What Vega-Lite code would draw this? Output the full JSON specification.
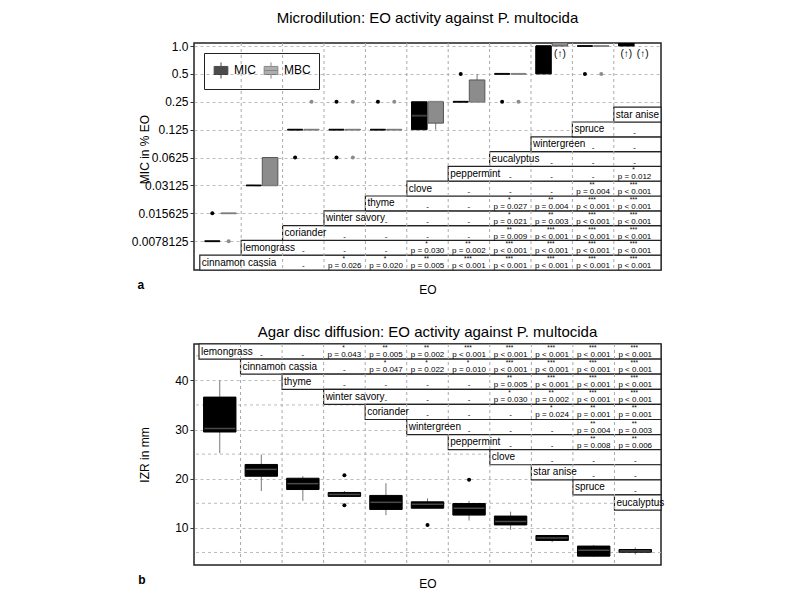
{
  "$schema": "https://vega.github.io/schema/vega-lite/v6.json",
  "padding": {"left": 130, "top": 10, "right": 5, "bottom": 5},
  "background": "white",
  "spacing": 28,
  "datasets": {
    "boxA": [
      {"EO": "cinnamon cassia", "type": "MIC", "lo": 0.0078125, "q1": 0.0078125, "med": 0.0078125, "q3": 0.0078125, "hi": 0.0078125},
      {"EO": "cinnamon cassia", "type": "MBC", "lo": 0.015625, "q1": 0.015625, "med": 0.015625, "q3": 0.015625, "hi": 0.015625},
      {"EO": "lemongrass", "type": "MIC", "lo": 0.03125, "q1": 0.03125, "med": 0.03125, "q3": 0.03125, "hi": 0.03125},
      {"EO": "lemongrass", "type": "MBC", "lo": 0.03125, "q1": 0.03125, "med": 0.03125, "q3": 0.0625, "hi": 0.0625},
      {"EO": "coriander", "type": "MIC", "lo": 0.125, "q1": 0.125, "med": 0.125, "q3": 0.125, "hi": 0.125},
      {"EO": "coriander", "type": "MBC", "lo": 0.125, "q1": 0.125, "med": 0.125, "q3": 0.125, "hi": 0.125},
      {"EO": "winter savory", "type": "MIC", "lo": 0.125, "q1": 0.125, "med": 0.125, "q3": 0.125, "hi": 0.125},
      {"EO": "winter savory", "type": "MBC", "lo": 0.125, "q1": 0.125, "med": 0.125, "q3": 0.125, "hi": 0.125},
      {"EO": "thyme", "type": "MIC", "lo": 0.125, "q1": 0.125, "med": 0.125, "q3": 0.125, "hi": 0.125},
      {"EO": "thyme", "type": "MBC", "lo": 0.125, "q1": 0.125, "med": 0.125, "q3": 0.125, "hi": 0.125},
      {"EO": "clove", "type": "MIC", "lo": 0.125, "q1": 0.125, "med": 0.177, "q3": 0.25, "hi": 0.25},
      {"EO": "clove", "type": "MBC", "lo": 0.125, "q1": 0.147, "med": 0.25, "q3": 0.25, "hi": 0.25},
      {"EO": "peppermint", "type": "MIC", "lo": 0.25, "q1": 0.25, "med": 0.25, "q3": 0.25, "hi": 0.25},
      {"EO": "peppermint", "type": "MBC", "lo": 0.25, "q1": 0.25, "med": 0.25, "q3": 0.43, "hi": 0.5},
      {"EO": "eucalyptus", "type": "MIC", "lo": 0.5, "q1": 0.5, "med": 0.5, "q3": 0.5, "hi": 0.5},
      {"EO": "eucalyptus", "type": "MBC", "lo": 0.5, "q1": 0.5, "med": 0.5, "q3": 0.5, "hi": 0.5},
      {"EO": "wintergreen", "type": "MIC", "lo": 0.5, "q1": 0.5, "med": 1, "q3": 1, "hi": 1},
      {"EO": "wintergreen", "type": "MBC", "lo": 1, "q1": 1, "med": 2, "q3": 2, "hi": 2},
      {"EO": "spruce", "type": "MIC", "lo": 1, "q1": 1, "med": 1, "q3": 1, "hi": 1},
      {"EO": "spruce", "type": "MBC", "lo": 1, "q1": 1, "med": 1, "q3": 1, "hi": 1},
      {"EO": "star anise", "type": "MIC", "lo": 1, "q1": 1, "med": 2, "q3": 2, "hi": 2},
      {"EO": "star anise", "type": "MBC", "lo": 2, "q1": 2, "med": 2, "q3": 2, "hi": 2}
    ],
    "outA": [
      {"EO": "cinnamon cassia", "type": "MIC", "v": 0.015625},
      {"EO": "cinnamon cassia", "type": "MBC", "v": 0.0078125},
      {"EO": "coriander", "type": "MIC", "v": 0.0625},
      {"EO": "coriander", "type": "MBC", "v": 0.25},
      {"EO": "winter savory", "type": "MIC", "v": 0.25},
      {"EO": "winter savory", "type": "MIC", "v": 0.0625},
      {"EO": "winter savory", "type": "MBC", "v": 0.25},
      {"EO": "winter savory", "type": "MBC", "v": 0.0625},
      {"EO": "thyme", "type": "MIC", "v": 0.25},
      {"EO": "thyme", "type": "MBC", "v": 0.25},
      {"EO": "peppermint", "type": "MIC", "v": 0.5},
      {"EO": "eucalyptus", "type": "MIC", "v": 0.25},
      {"EO": "eucalyptus", "type": "MBC", "v": 0.25},
      {"EO": "spruce", "type": "MIC", "v": 0.5},
      {"EO": "spruce", "type": "MBC", "v": 0.5}
    ],
    "arrA": [
      {"EO": "wintergreen", "type": "MBC", "v": 1, "t": "(↑)"},
      {"EO": "star anise", "type": "MIC", "v": 1, "t": "(↑)"},
      {"EO": "star anise", "type": "MBC", "v": 1, "t": "(↑)"}
    ],
    "rowsA": [
      {"r": 0, "EO": "cinnamon cassia"}, {"r": 1, "EO": "lemongrass"}, {"r": 2, "EO": "coriander"},
      {"r": 3, "EO": "winter savory"}, {"r": 4, "EO": "thyme"}, {"r": 5, "EO": "clove"},
      {"r": 6, "EO": "peppermint"}, {"r": 7, "EO": "eucalyptus"}, {"r": 8, "EO": "wintergreen"},
      {"r": 9, "EO": "spruce"}, {"r": 10, "EO": "star anise"}
    ],
    "gridA": [
      {"EO": "lemongrass"}, {"EO": "coriander"}, {"EO": "winter savory"}, {"EO": "thyme"}, {"EO": "clove"},
      {"EO": "peppermint"}, {"EO": "eucalyptus"}, {"EO": "wintergreen"}, {"EO": "spruce"}, {"EO": "star anise"}
    ],
    "cellsA": [
      {"r": 0, "EO": "lemongrass", "p": "-", "sig": ""},
      {"r": 0, "EO": "coriander", "p": "-", "sig": ""},
      {"r": 0, "EO": "winter savory", "p": "p = 0.026", "sig": "*"},
      {"r": 0, "EO": "thyme", "p": "p = 0.020", "sig": "*"},
      {"r": 0, "EO": "clove", "p": "p = 0.005", "sig": "**"},
      {"r": 0, "EO": "peppermint", "p": "p < 0.001", "sig": "***"},
      {"r": 0, "EO": "eucalyptus", "p": "p < 0.001", "sig": "***"},
      {"r": 0, "EO": "wintergreen", "p": "p < 0.001", "sig": "***"},
      {"r": 0, "EO": "spruce", "p": "p < 0.001", "sig": "***"},
      {"r": 0, "EO": "star anise", "p": "p < 0.001", "sig": "***"},
      {"r": 1, "EO": "coriander", "p": "-", "sig": ""},
      {"r": 1, "EO": "winter savory", "p": "-", "sig": ""},
      {"r": 1, "EO": "thyme", "p": "-", "sig": ""},
      {"r": 1, "EO": "clove", "p": "p = 0.030", "sig": "*"},
      {"r": 1, "EO": "peppermint", "p": "p = 0.002", "sig": "**"},
      {"r": 1, "EO": "eucalyptus", "p": "p < 0.001", "sig": "***"},
      {"r": 1, "EO": "wintergreen", "p": "p < 0.001", "sig": "***"},
      {"r": 1, "EO": "spruce", "p": "p < 0.001", "sig": "***"},
      {"r": 1, "EO": "star anise", "p": "p < 0.001", "sig": "***"},
      {"r": 2, "EO": "winter savory", "p": "-", "sig": ""},
      {"r": 2, "EO": "thyme", "p": "-", "sig": ""},
      {"r": 2, "EO": "clove", "p": "-", "sig": ""},
      {"r": 2, "EO": "peppermint", "p": "-", "sig": ""},
      {"r": 2, "EO": "eucalyptus", "p": "p = 0.009", "sig": "**"},
      {"r": 2, "EO": "wintergreen", "p": "p < 0.001", "sig": "***"},
      {"r": 2, "EO": "spruce", "p": "p < 0.001", "sig": "***"},
      {"r": 2, "EO": "star anise", "p": "p < 0.001", "sig": "***"},
      {"r": 3, "EO": "thyme", "p": "-", "sig": ""},
      {"r": 3, "EO": "clove", "p": "-", "sig": ""},
      {"r": 3, "EO": "peppermint", "p": "-", "sig": ""},
      {"r": 3, "EO": "eucalyptus", "p": "p = 0.021", "sig": "*"},
      {"r": 3, "EO": "wintergreen", "p": "p = 0.003", "sig": "**"},
      {"r": 3, "EO": "spruce", "p": "p < 0.001", "sig": "***"},
      {"r": 3, "EO": "star anise", "p": "p < 0.001", "sig": "***"},
      {"r": 4, "EO": "clove", "p": "-", "sig": ""},
      {"r": 4, "EO": "peppermint", "p": "-", "sig": ""},
      {"r": 4, "EO": "eucalyptus", "p": "p = 0.027", "sig": "*"},
      {"r": 4, "EO": "wintergreen", "p": "p = 0.004", "sig": "**"},
      {"r": 4, "EO": "spruce", "p": "p < 0.001", "sig": "***"},
      {"r": 4, "EO": "star anise", "p": "p < 0.001", "sig": "***"},
      {"r": 5, "EO": "peppermint", "p": "-", "sig": ""},
      {"r": 5, "EO": "eucalyptus", "p": "-", "sig": ""},
      {"r": 5, "EO": "wintergreen", "p": "-", "sig": ""},
      {"r": 5, "EO": "spruce", "p": "p = 0.004", "sig": "**"},
      {"r": 5, "EO": "star anise", "p": "p < 0.001", "sig": "***"},
      {"r": 6, "EO": "eucalyptus", "p": "-", "sig": ""},
      {"r": 6, "EO": "wintergreen", "p": "-", "sig": ""},
      {"r": 6, "EO": "spruce", "p": "-", "sig": ""},
      {"r": 6, "EO": "star anise", "p": "p = 0.012", "sig": "*"},
      {"r": 7, "EO": "wintergreen", "p": "-", "sig": ""},
      {"r": 7, "EO": "spruce", "p": "-", "sig": ""},
      {"r": 7, "EO": "star anise", "p": "-", "sig": ""},
      {"r": 8, "EO": "spruce", "p": "-", "sig": ""},
      {"r": 8, "EO": "star anise", "p": "-", "sig": ""},
      {"r": 9, "EO": "star anise", "p": "-", "sig": ""}
    ],
    "boxB": [
      {"EO": "lemongrass", "lo": 25.2, "q1": 29.5, "med": 30.2, "q3": 36.6, "hi": 40},
      {"EO": "cinnamon cassia", "lo": 17.5, "q1": 20.5, "med": 21.9, "q3": 22.9, "hi": 24.9},
      {"EO": "thyme", "lo": 15.5, "q1": 17.8, "med": 19.0, "q3": 20.1, "hi": 20.5},
      {"EO": "winter savory", "lo": 16.4, "q1": 16.4, "med": 16.8, "q3": 17.2, "hi": 17.5},
      {"EO": "coriander", "lo": 12.6, "q1": 13.75, "med": 15.2, "q3": 16.6, "hi": 19.1},
      {"EO": "wintergreen", "lo": 14.0, "q1": 14.0, "med": 14.8, "q3": 15.3, "hi": 16.0},
      {"EO": "peppermint", "lo": 11.5, "q1": 12.6, "med": 14.0, "q3": 14.95, "hi": 15.5},
      {"EO": "clove", "lo": 9.6, "q1": 10.6, "med": 11.3, "q3": 12.4, "hi": 13.3},
      {"EO": "star anise", "lo": 7.1, "q1": 7.45, "med": 7.95, "q3": 8.45, "hi": 8.45},
      {"EO": "spruce", "lo": 4.1, "q1": 4.25, "med": 5.45, "q3": 6.3, "hi": 6.5},
      {"EO": "eucalyptus", "lo": 4.6, "q1": 5.05, "med": 5.3, "q3": 5.6, "hi": 6.0}
    ],
    "outB": [
      {"EO": "winter savory", "v": 20.7},
      {"EO": "winter savory", "v": 14.6},
      {"EO": "wintergreen", "v": 10.6},
      {"EO": "peppermint", "v": 19.8}
    ],
    "halfGridB": [{"g": 5}, {"g": 15}, {"g": 25}, {"g": 35}, {"g": 45}],
    "rowsB": [
      {"r": 0, "EO": "lemongrass"}, {"r": 1, "EO": "cinnamon cassia"}, {"r": 2, "EO": "thyme"},
      {"r": 3, "EO": "winter savory"}, {"r": 4, "EO": "coriander"}, {"r": 5, "EO": "wintergreen"},
      {"r": 6, "EO": "peppermint"}, {"r": 7, "EO": "clove"}, {"r": 8, "EO": "star anise"},
      {"r": 9, "EO": "spruce"}, {"r": 10, "EO": "eucalyptus"}
    ],
    "gridB": [
      {"EO": "cinnamon cassia"}, {"EO": "thyme"}, {"EO": "winter savory"}, {"EO": "coriander"}, {"EO": "wintergreen"},
      {"EO": "peppermint"}, {"EO": "clove"}, {"EO": "star anise"}, {"EO": "spruce"}, {"EO": "eucalyptus"}
    ],
    "cellsB": [
      {"r": 0, "EO": "cinnamon cassia", "p": "-", "sig": ""},
      {"r": 0, "EO": "thyme", "p": "-", "sig": ""},
      {"r": 0, "EO": "winter savory", "p": "p = 0.043", "sig": "*"},
      {"r": 0, "EO": "coriander", "p": "p = 0.005", "sig": "**"},
      {"r": 0, "EO": "wintergreen", "p": "p = 0.002", "sig": "**"},
      {"r": 0, "EO": "peppermint", "p": "p < 0.001", "sig": "***"},
      {"r": 0, "EO": "clove", "p": "p < 0.001", "sig": "***"},
      {"r": 0, "EO": "star anise", "p": "p < 0.001", "sig": "***"},
      {"r": 0, "EO": "spruce", "p": "p < 0.001", "sig": "***"},
      {"r": 0, "EO": "eucalyptus", "p": "p < 0.001", "sig": "***"},
      {"r": 1, "EO": "thyme", "p": "-", "sig": ""},
      {"r": 1, "EO": "winter savory", "p": "-", "sig": ""},
      {"r": 1, "EO": "coriander", "p": "p = 0.047", "sig": "*"},
      {"r": 1, "EO": "wintergreen", "p": "p = 0.022", "sig": "*"},
      {"r": 1, "EO": "peppermint", "p": "p = 0.010", "sig": "*"},
      {"r": 1, "EO": "clove", "p": "p < 0.001", "sig": "***"},
      {"r": 1, "EO": "star anise", "p": "p < 0.001", "sig": "***"},
      {"r": 1, "EO": "spruce", "p": "p < 0.001", "sig": "***"},
      {"r": 1, "EO": "eucalyptus", "p": "p < 0.001", "sig": "***"},
      {"r": 2, "EO": "winter savory", "p": "-", "sig": ""},
      {"r": 2, "EO": "coriander", "p": "-", "sig": ""},
      {"r": 2, "EO": "wintergreen", "p": "-", "sig": ""},
      {"r": 2, "EO": "peppermint", "p": "-", "sig": ""},
      {"r": 2, "EO": "clove", "p": "p = 0.005", "sig": "**"},
      {"r": 2, "EO": "star anise", "p": "p < 0.001", "sig": "***"},
      {"r": 2, "EO": "spruce", "p": "p < 0.001", "sig": "***"},
      {"r": 2, "EO": "eucalyptus", "p": "p < 0.001", "sig": "***"},
      {"r": 3, "EO": "coriander", "p": "-", "sig": ""},
      {"r": 3, "EO": "wintergreen", "p": "-", "sig": ""},
      {"r": 3, "EO": "peppermint", "p": "-", "sig": ""},
      {"r": 3, "EO": "clove", "p": "p = 0.030", "sig": "*"},
      {"r": 3, "EO": "star anise", "p": "p = 0.002", "sig": "**"},
      {"r": 3, "EO": "spruce", "p": "p < 0.001", "sig": "***"},
      {"r": 3, "EO": "eucalyptus", "p": "p < 0.001", "sig": "***"},
      {"r": 4, "EO": "wintergreen", "p": "-", "sig": ""},
      {"r": 4, "EO": "peppermint", "p": "-", "sig": ""},
      {"r": 4, "EO": "clove", "p": "-", "sig": ""},
      {"r": 4, "EO": "star anise", "p": "p = 0.024", "sig": "*"},
      {"r": 4, "EO": "spruce", "p": "p = 0.001", "sig": "**"},
      {"r": 4, "EO": "eucalyptus", "p": "p = 0.001", "sig": "**"},
      {"r": 5, "EO": "peppermint", "p": "-", "sig": ""},
      {"r": 5, "EO": "clove", "p": "-", "sig": ""},
      {"r": 5, "EO": "star anise", "p": "-", "sig": ""},
      {"r": 5, "EO": "spruce", "p": "p = 0.004", "sig": "**"},
      {"r": 5, "EO": "eucalyptus", "p": "p = 0.003", "sig": "**"},
      {"r": 6, "EO": "clove", "p": "-", "sig": ""},
      {"r": 6, "EO": "star anise", "p": "-", "sig": ""},
      {"r": 6, "EO": "spruce", "p": "p = 0.008", "sig": "**"},
      {"r": 6, "EO": "eucalyptus", "p": "p = 0.006", "sig": "**"},
      {"r": 7, "EO": "star anise", "p": "-", "sig": ""},
      {"r": 7, "EO": "spruce", "p": "-", "sig": ""},
      {"r": 7, "EO": "eucalyptus", "p": "-", "sig": ""},
      {"r": 8, "EO": "spruce", "p": "-", "sig": ""},
      {"r": 8, "EO": "eucalyptus", "p": "-", "sig": ""},
      {"r": 9, "EO": "eucalyptus", "p": "-", "sig": ""}
    ]
  },
  "vconcat": [
    {
      "title": {"text": "a", "orient": "bottom", "anchor": "start", "fontWeight": "bold", "fontSize": 12, "offset": -16, "dx": 7},
      "vconcat": [
        {
          "title": {"text": "Microdilution: EO activity against P. multocida", "anchor": "middle", "frame": "group", "offset": 14},
          "width": 467,
          "height": 227,
          "resolve": {"scale": {"x": "independent", "y": "independent"}},
          "layer": [
            {
              "layer": [
                {
                  "data": {"name": "boxA"},
                  "mark": {"type": "rule", "clip": true, "color": "#777", "strokeWidth": 1},
                  "encoding": {
                    "x": {"field": "EO", "type": "nominal", "sort": null,
                      "scale": {"type": "band", "domain": ["cinnamon cassia", "lemongrass", "coriander", "winter savory", "thyme", "clove", "peppermint", "eucalyptus", "wintergreen", "spruce", "star anise"], "paddingInner": 0, "paddingOuter": 0.14},
                      "axis": {"title": "EO", "labels": false, "ticks": false, "domain": false, "grid": false, "titlePadding": 14}},
                    "xOffset": {"field": "type", "type": "nominal", "scale": {"domain": ["MIC", "MBC"], "paddingInner": 0.05, "paddingOuter": 0.29}},
                    "y": {"field": "lo", "type": "quantitative",
                      "scale": {"type": "log", "base": 2, "domain": [0.003818, 1.0777], "nice": false},
                      "axis": {"title": "MIC in % EO", "values": [0.0078125, 0.015625, 0.03125, 0.0625, 0.125, 0.25, 0.5, 1],
                        "labelExpr": "datum.value == 1 ? '1.0' : '' + datum.value", "grid": true, "gridDash": [3, 3], "gridColor": "#bbb",
                        "tickSize": 4, "tickColor": "#333", "domain": false, "titleX": -43, "titleY": 106, "labelOverlap": false}},
                    "y2": {"field": "hi"}
                  }
                },
                {
                  "data": {"name": "boxA"},
                  "mark": {"type": "bar", "clip": true, "strokeWidth": 1},
                  "encoding": {
                    "x": {"field": "EO", "type": "nominal", "sort": null},
                    "xOffset": {"field": "type", "type": "nominal"},
                    "y": {"field": "q1", "type": "quantitative"},
                    "y2": {"field": "q3"},
                    "color": {"field": "type", "type": "nominal",
                      "scale": {"domain": ["MIC", "MBC"], "range": ["#000000", "#8c8c8c"]},
                      "legend": {"title": null, "orient": "top-left", "direction": "horizontal", "offset": 10, "padding": 8,
                        "strokeColor": "#222", "symbolType": "M-0.85,-0.5H0.85V0.5H-0.85Z M0,-0.5V-1 M0,0.5V1 M-0.85,0H0.85",
                        "symbolSize": 260, "symbolStrokeColor": "#333", "symbolStrokeWidth": 1, "labelFontSize": 12, "columnPadding": 6}},
                    "stroke": {"field": "type", "type": "nominal", "scale": {"domain": ["MIC", "MBC"], "range": ["#000000", "#555555"]}, "legend": null}
                  }
                },
                {
                  "data": {"name": "boxA"},
                  "mark": {"type": "tick", "clip": true, "orient": "horizontal", "thickness": 2, "size": 15},
                  "encoding": {
                    "x": {"field": "EO", "type": "nominal", "sort": null},
                    "xOffset": {"field": "type", "type": "nominal"},
                    "y": {"field": "med", "type": "quantitative"},
                    "color": {"condition": {"test": "datum.med == datum.q1 || datum.med == datum.q3", "field": "type", "type": "nominal"}, "value": "#555555"}
                  }
                },
                {
                  "data": {"name": "outA"},
                  "mark": {"type": "circle", "size": 16, "opacity": 1},
                  "encoding": {
                    "x": {"field": "EO", "type": "nominal", "sort": null},
                    "xOffset": {"field": "type", "type": "nominal"},
                    "y": {"field": "v", "type": "quantitative"},
                    "color": {"field": "type", "type": "nominal"}
                  }
                },
                {
                  "data": {"name": "arrA"},
                  "mark": {"type": "text", "baseline": "top", "dy": 3, "fontSize": 10, "color": "#000"},
                  "encoding": {
                    "x": {"field": "EO", "type": "nominal", "sort": null},
                    "xOffset": {"field": "type", "type": "nominal"},
                    "y": {"field": "v", "type": "quantitative"},
                    "text": {"field": "t"}
                  }
                }
              ]
            },
            {
              "data": {"name": "rowsA"},
              "mark": {"type": "rect", "fill": "white", "stroke": "#222", "strokeWidth": 1.2},
              "encoding": {
                "x": {"field": "r", "type": "quantitative", "scale": {"domain": [-0.14, 11.14], "nice": false, "zero": false}, "axis": null},
                "x2": {"datum": 11.14},
                "y": {"field": "r", "type": "ordinal", "scale": {"type": "band", "domain": [14, 13, 12, 11, 10, 9, 8, 7, 6, 5, 4, 3, 2, 1, 0], "paddingInner": 0, "paddingOuter": 0.17, "align": 1}, "axis": null}
              }
            },
            {
              "layer": [
                {
                  "data": {"name": "gridA"},
                  "mark": {"type": "rule", "color": "#aaa", "strokeDash": [3, 3], "strokeWidth": 1},
                  "encoding": {
                    "x": {"field": "EO", "type": "nominal", "sort": null, "bandPosition": 0,
                      "scale": {"type": "band", "domain": ["cinnamon cassia", "lemongrass", "coriander", "winter savory", "thyme", "clove", "peppermint", "eucalyptus", "wintergreen", "spruce", "star anise"], "paddingInner": 0, "paddingOuter": 0.14},
                      "axis": null}
                  }
                },
                {
                  "data": {"name": "rowsA"},
                  "mark": {"type": "text", "align": "left", "dx": 2, "font": "Liberation Sans", "fontSize": 10, "color": "#000"},
                  "encoding": {
                    "x": {"field": "EO", "type": "nominal", "sort": null, "bandPosition": 0},
                    "y": {"field": "r", "type": "ordinal", "scale": {"type": "band", "domain": [14, 13, 12, 11, 10, 9, 8, 7, 6, 5, 4, 3, 2, 1, 0], "paddingInner": 0, "paddingOuter": 0.17, "align": 1}, "axis": null},
                    "text": {"field": "EO"}
                  }
                },
                {
                  "data": {"name": "cellsA"},
                  "mark": {"type": "text", "font": "Liberation Sans", "fontSize": 8, "dy": 3.5, "color": "#000"},
                  "encoding": {
                    "x": {"field": "EO", "type": "nominal", "sort": null},
                    "y": {"field": "r", "type": "ordinal"},
                    "text": {"field": "p"}
                  }
                },
                {
                  "data": {"name": "cellsA"},
                  "mark": {"type": "text", "font": "Liberation Sans", "fontSize": 6.5, "dy": -3.5, "dx": -1, "color": "#000"},
                  "encoding": {
                    "x": {"field": "EO", "type": "nominal", "sort": null},
                    "y": {"field": "r", "type": "ordinal"},
                    "text": {"field": "sig"}
                  }
                }
              ]
            }
          ]
        }
      ]
    },
    {
      "title": {"text": "b", "orient": "bottom", "anchor": "start", "fontWeight": "bold", "fontSize": 12, "offset": -15, "dx": 1},
      "vconcat": [
        {
          "title": {"text": "Agar disc diffusion: EO activity against P. multocida", "anchor": "middle", "frame": "group", "offset": 3},
          "width": 467,
          "height": 221,
          "resolve": {"scale": {"x": "independent", "y": "independent"}},
          "layer": [
            {
              "layer": [
                {
                  "data": {"name": "halfGridB"},
                  "mark": {"type": "rule", "color": "#bbb", "strokeDash": [3, 3], "strokeWidth": 1},
                  "encoding": {
                    "y": {"field": "g", "type": "quantitative"}
                  }
                },
                {
                  "data": {"name": "boxB"},
                  "mark": {"type": "rule", "color": "#777", "strokeWidth": 1},
                  "encoding": {
                    "x": {"field": "EO", "type": "nominal", "sort": null,
                      "scale": {"type": "band", "domain": ["lemongrass", "cinnamon cassia", "thyme", "winter savory", "coriander", "wintergreen", "peppermint", "clove", "star anise", "spruce", "eucalyptus"], "paddingInner": 0, "paddingOuter": 0.12},
                      "axis": {"title": "EO", "labels": false, "ticks": false, "domain": false, "grid": false, "titlePadding": 13}},
                    "y": {"field": "lo", "type": "quantitative",
                      "scale": {"domain": [2.45, 47.4], "nice": false, "zero": false},
                      "axis": {"title": "IZR in mm", "values": [10, 20, 30, 40], "grid": true, "gridDash": [3, 3], "gridColor": "#bbb",
                        "tickSize": 4, "tickColor": "#333", "domain": false, "titleX": -43}},
                    "y2": {"field": "hi"}
                  }
                },
                {
                  "data": {"name": "boxB"},
                  "mark": {"type": "bar", "color": "#000", "stroke": "#000", "strokeWidth": 1, "width": {"band": 0.78}},
                  "encoding": {
                    "x": {"field": "EO", "type": "nominal", "sort": null},
                    "y": {"field": "q1", "type": "quantitative"},
                    "y2": {"field": "q3"}
                  }
                },
                {
                  "data": {"name": "boxB"},
                  "mark": {"type": "tick", "orient": "horizontal", "thickness": 1.5, "size": 31, "color": "#6a6a6a"},
                  "encoding": {
                    "x": {"field": "EO", "type": "nominal", "sort": null},
                    "y": {"field": "med", "type": "quantitative"}
                  }
                },
                {
                  "data": {"name": "outB"},
                  "mark": {"type": "circle", "size": 16, "opacity": 1, "color": "#000"},
                  "encoding": {
                    "x": {"field": "EO", "type": "nominal", "sort": null},
                    "y": {"field": "v", "type": "quantitative"}
                  }
                }
              ]
            },
            {
              "data": {"name": "rowsB"},
              "mark": {"type": "rect", "fill": "white", "stroke": "#222", "strokeWidth": 1.2},
              "encoding": {
                "x": {"field": "r", "type": "quantitative", "scale": {"domain": [-0.12, 11.12], "nice": false, "zero": false}, "axis": null},
                "x2": {"datum": 11.12},
                "y": {"field": "r", "type": "ordinal", "scale": {"type": "band", "domain": [0, 1, 2, 3, 4, 5, 6, 7, 8, 9, 10, 11, 12, 13], "paddingInner": 0, "paddingOuter": 0.32, "align": 0}, "axis": null}
              }
            },
            {
              "layer": [
                {
                  "data": {"name": "gridB"},
                  "mark": {"type": "rule", "color": "#aaa", "strokeDash": [3, 3], "strokeWidth": 1},
                  "encoding": {
                    "x": {"field": "EO", "type": "nominal", "sort": null, "bandPosition": 0,
                      "scale": {"type": "band", "domain": ["lemongrass", "cinnamon cassia", "thyme", "winter savory", "coriander", "wintergreen", "peppermint", "clove", "star anise", "spruce", "eucalyptus"], "paddingInner": 0, "paddingOuter": 0.12},
                      "axis": null}
                  }
                },
                {
                  "data": {"name": "rowsB"},
                  "mark": {"type": "text", "align": "left", "dx": 2, "font": "Liberation Sans", "fontSize": 10, "color": "#000"},
                  "encoding": {
                    "x": {"field": "EO", "type": "nominal", "sort": null, "bandPosition": 0},
                    "y": {"field": "r", "type": "ordinal", "scale": {"type": "band", "domain": [0, 1, 2, 3, 4, 5, 6, 7, 8, 9, 10, 11, 12, 13], "paddingInner": 0, "paddingOuter": 0.32, "align": 0}, "axis": null},
                    "text": {"field": "EO"}
                  }
                },
                {
                  "data": {"name": "cellsB"},
                  "mark": {"type": "text", "font": "Liberation Sans", "fontSize": 8, "dy": 3.5, "color": "#000"},
                  "encoding": {
                    "x": {"field": "EO", "type": "nominal", "sort": null},
                    "y": {"field": "r", "type": "ordinal"},
                    "text": {"field": "p"}
                  }
                },
                {
                  "data": {"name": "cellsB"},
                  "mark": {"type": "text", "font": "Liberation Sans", "fontSize": 6.5, "dy": -3.5, "dx": -1, "color": "#000"},
                  "encoding": {
                    "x": {"field": "EO", "type": "nominal", "sort": null},
                    "y": {"field": "r", "type": "ordinal"},
                    "text": {"field": "sig"}
                  }
                }
              ]
            }
          ]
        }
      ]
    }
  ],
  "config": {
    "font": "Liberation Sans",
    "view": {"stroke": "#222", "strokeWidth": 1.5},
    "axis": {"labelFont": "Liberation Sans", "titleFont": "Liberation Sans", "labelColor": "#000", "titleColor": "#000",
      "labelFontSize": 12, "titleFontSize": 12, "titleFontWeight": "normal"},
    "title": {"font": "Liberation Sans", "fontSize": 15, "fontWeight": "normal", "color": "#000"},
    "legend": {"labelFont": "Liberation Sans", "labelColor": "#000"},
    "concat": {"spacing": 28}
  }
}
